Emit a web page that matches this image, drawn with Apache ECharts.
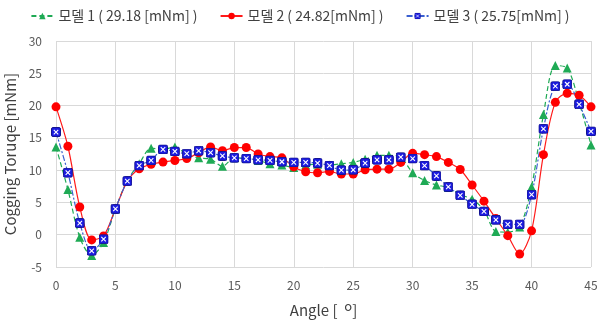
<!DOCTYPE html>
<html>
<head>
<meta charset="utf-8">
<script src="https://cdn.jsdelivr.net/npm/echarts@6/dist/echarts.min.js"></script>
<style>
  html, body { margin: 0; padding: 0; background: #fff; }
  #chart { width: 600px; height: 326px; }
</style>
</head>
<body>
<div id="chart"></div>
<script>
'use strict';
var angles = [0, 1, 2, 3, 4, 5, 6, 7, 8, 9, 10, 11, 12, 13, 14, 15, 16, 17, 18, 19, 20, 21, 22,
		23, 24, 25, 26, 27, 28, 29, 30, 31, 32, 33, 34, 35, 36, 37, 38, 39, 40, 41, 42, 43, 44, 45],
	model1 = [13.6, 7.0, -0.4, -3.2, -1.2, 4.0, 8.4, 11.0, 13.4, 13.2, 13.6, 12.4, 11.9, 11.7, 10.6, 11.9,
		11.8, 11.5, 11.0, 10.8, 10.4, 10.8, 10.9, 10.8, 11.0, 11.2, 11.7, 12.3, 12.3, 12.0, 9.6,
		8.4, 7.7, 7.3, 6.2, 5.5, 3.8, 0.5, 0.4, 1.2, 7.4, 18.6, 26.2, 25.8, 20.5, 13.9],
	model2 = [19.8, 13.7, 4.3, -0.8, -0.2, 4.0, 8.3, 10.2, 10.9, 11.25, 11.5, 11.8, 12.7, 13.6, 13.0, 13.5,
		13.5, 12.5, 12.1, 11.9, 10.5, 9.75, 9.6, 9.8, 9.4, 9.4, 10.05, 10.15, 10.15, 11.2, 12.6,
		12.4, 12.1, 11.2, 10.1, 7.7, 5.2, 2.5, -0.15, -3.0, 0.6, 12.4, 20.5, 21.9, 21.6, 19.8],
	model3 = [15.9, 9.6, 1.8, -2.5, -0.7, 4.0, 8.3, 10.7, 11.5, 13.2, 12.9, 12.55, 13.0, 12.7, 12.2, 11.9,
		11.8, 11.6, 11.5, 11.3, 11.2, 11.2, 11.1, 10.7, 10.0, 10.05, 11.1, 11.6, 11.6, 12.0, 11.8,
		10.7, 9.1, 7.4, 6.1, 4.7, 3.6, 2.3, 1.6, 1.6, 6.2, 16.4, 23.0, 23.3, 20.2, 16.0],
	seriesNames = ['모델 1 ( 29.18 [mNm] )', '모델 2 ( 24.82[mNm] )', '모델 3 ( 25.75[mNm] )'];

var font = '"Noto Sans CJK KR", "Noto Sans", sans-serif';

// blue square with a white cross, like the spreadsheet marker
var boxSvg = '<svg xmlns="http://www.w3.org/2000/svg" width="20" height="20">' +
	'<rect x="1" y="1" width="18" height="18" rx="3" fill="#1c1ce0" stroke="#12128f" stroke-width="2"/>' +
	'<path d="M5.5 5.5 L14.5 14.5 M14.5 5.5 L5.5 14.5" stroke="#ffffff" stroke-width="2.2"/></svg>';
var boxSymbol = 'image://data:image/svg+xml;charset=utf-8,' + encodeURIComponent(boxSvg);

function pairs(ys) {
	var out = [];
	for (var i = 0; i < angles.length; i++) {
		out.push([angles[i], ys[i]]);
	}
	return out;
}

var chart = echarts.init(document.getElementById('chart'), null, {renderer: 'canvas'});

chart.setOption({
	animation: false,
	textStyle: {fontFamily: font},
	legend: {
		top: 4,
		left: 'center',
		itemWidth: 22,
		itemHeight: 8,
		itemGap: 22,
		textStyle: {fontFamily: font, fontSize: 14, color: '#404040'},
		data: seriesNames
	},
	grid: {left: 56, right: 9, top: 41, bottom: 59, outerBoundsMode: 'none'},
	xAxis: {
		type: 'value',
		min: 0,
		max: 45,
		interval: 5,
		name: 'Angle [  {s|o}]',
		nameLocation: 'middle',
		nameGap: 33,
		nameTextStyle: {
			fontFamily: font, fontSize: 15, color: '#404040',
			rich: {s: {fontFamily: font, fontSize: 13, color: '#404040', padding: [0, 0, 8, 0]}}
		},
		axisLine: {show: false},
		axisTick: {show: false},
		axisLabel: {fontFamily: font, fontSize: 12, color: '#595959', margin: 12},
		splitLine: {show: true, lineStyle: {color: '#d9d9d9', width: 1}}
	},
	yAxis: {
		type: 'value',
		min: -5,
		max: 30,
		interval: 5,
		name: 'Cogging Toruqe [mNm]',
		nameLocation: 'middle',
		nameGap: 33,
		nameTextStyle: {fontFamily: font, fontSize: 15, color: '#404040'},
		axisLine: {show: false},
		axisTick: {show: false},
		axisLabel: {fontFamily: font, fontSize: 12, color: '#595959', margin: 14},
		splitLine: {show: true, lineStyle: {color: '#d9d9d9', width: 1}}
	},
	series: [
		{
			name: seriesNames[0],
			type: 'line',
			smooth: 0.3,
			symbol: 'triangle',
			symbolSize: 9,
			itemStyle: {color: '#1faa55'},
			lineStyle: {color: '#1faa55', width: 1.2, type: [5, 3]},
			data: pairs(model1)
		},
		{
			name: seriesNames[1],
			type: 'line',
			smooth: 0.3,
			symbol: 'circle',
			symbolSize: 9,
			itemStyle: {color: '#ff0000'},
			lineStyle: {color: '#ff1a1a', width: 1.2},
			data: pairs(model2)
		},
		{
			name: seriesNames[2],
			type: 'line',
			smooth: 0.3,
			symbol: boxSymbol,
			symbolSize: 10,
			itemStyle: {color: '#1c1ce0'},
			lineStyle: {color: '#3a5fd0', width: 1.2, type: [6, 2, 2, 2]},
			data: pairs(model3)
		}
	]
});
</script>
</body>
</html>
